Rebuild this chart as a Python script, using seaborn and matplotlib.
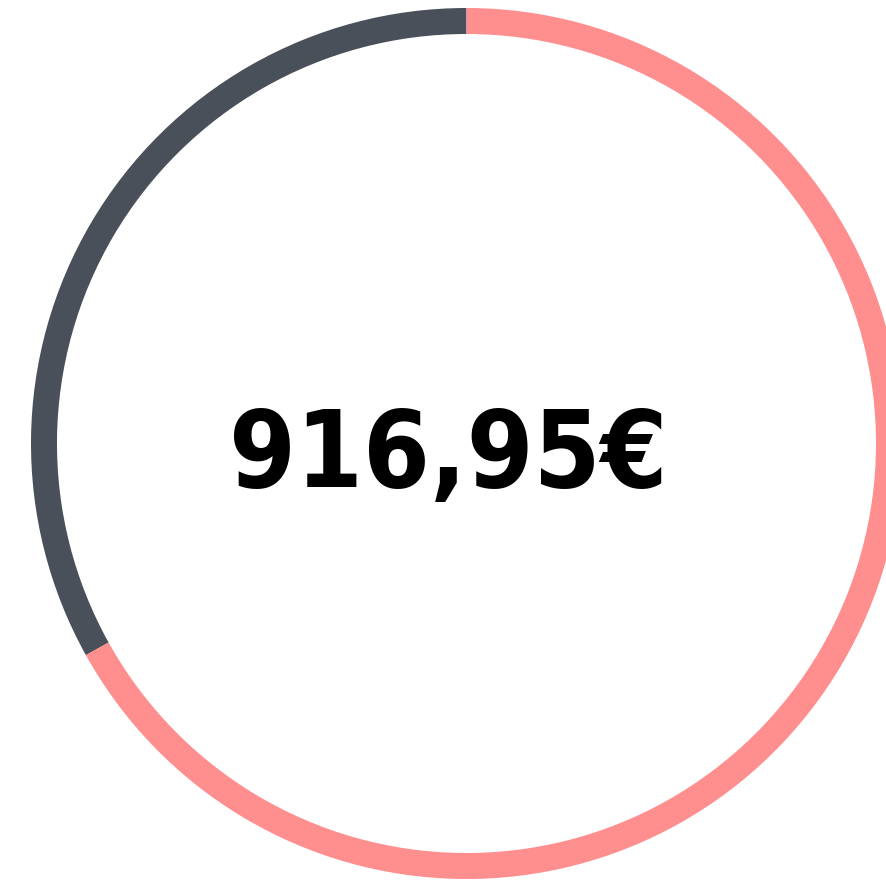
import matplotlib
matplotlib.use("Agg")
import matplotlib.pyplot as plt
import seaborn as sns
from matplotlib import font_manager as fm

# Data
labels = ["Part A", "Part B"]
values = [303.30, 613.65]
colors = ["#4a5059", "#ff8e8e"]
center_label = "916,95€"

sns.set_theme(style="white")
plt.rcParams['font.family'] = ['DejaVu Sans']

W, H = 887, 882
fig = plt.figure(figsize=(W / 100, H / 100), dpi=100)
ax = fig.add_axes([0, 0, 1, 1])

cx, cy = 466.5, H - 443.5
R = 435.5
ax.pie(values, colors=colors, startangle=90, counterclock=True,
       radius=R, center=(cx, cy),
       wedgeprops=dict(width=26, edgecolor='none', linewidth=0))

fp = fm.FontProperties(family='DejaVu Sans', stretch='condensed', weight='bold', size=77)
ax.text(448, H - 487, center_label, ha='center', va='baseline',
        fontproperties=fp, color='black')

ax.set_xlim(0, W)
ax.set_ylim(0, H)
ax.set_aspect('equal')
ax.axis('off')

fig.savefig("out.png", dpi=100, facecolor='white')
